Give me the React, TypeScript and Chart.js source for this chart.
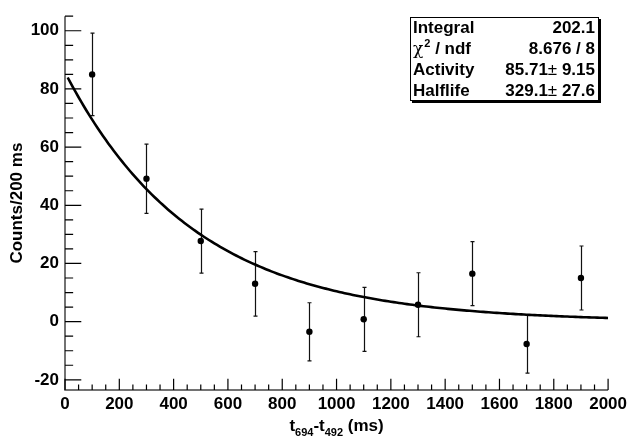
import React, { useEffect, useRef } from 'react';
import { Chart, registerables } from 'chart.js';

Chart.register(...registerables);

// ---- data ----
const binCenters = [100, 300, 500, 700, 900, 1100, 1300, 1500, 1700, 1900];
const counts = [85.0, 49.1, 27.7, 13.0, -3.5, 0.8, 5.8, 16.5, -7.7, 15.0];
const countErrors = [14.2, 11.9, 11.0, 11.1, 10.0, 11.0, 11.0, 11.0, 10.0, 11.0];

const xTickValues = [0, 200, 400, 600, 800, 1000, 1200, 1400, 1600, 1800, 2000];
const yTickValues = [-20, 0, 20, 40, 60, 80, 100];

// fit parameters shown in the stats box
const fitActivity = 85.71;
const fitActivityErr = 9.15;
const fitHalflife = 329.1;
const fitHalflifeErr = 27.6;
const fitIntegral = 202.1;
const fitChi2 = 8.676;
const fitNdf = 8;
const fitRange = [10, 2000];

const statLabels = ['Integral', 'χ2 / ndf', 'Activity', 'Halflife'];

const FONT = "'Liberation Sans', Arial, Helvetica, sans-serif";

function fitCurve() {
  const pts: { x: number; y: number }[] = [];
  for (let t = fitRange[0]; t <= fitRange[1]; t += 10) {
    pts.push({ x: t, y: fitActivity * Math.exp((-Math.LN2 * t) / fitHalflife) });
  }
  return pts;
}

const rootPlugin = {
  id: 'rootStyle',
  beforeDatasetsDraw(chart: any) {
    const ctx = chart.ctx;
    const xs = chart.scales.x;
    const ys = chart.scales.y;
    ctx.save();
    ctx.strokeStyle = '#111';
    ctx.lineWidth = 1.2;
    for (let i = 0; i < binCenters.length; i++) {
      const px = Math.round(xs.getPixelForValue(binCenters[i])) + 0.5;
      const top = ys.getPixelForValue(counts[i] + countErrors[i]);
      const bot = ys.getPixelForValue(counts[i] - countErrors[i]);
      ctx.beginPath();
      ctx.moveTo(px, top);
      ctx.lineTo(px, bot);
      ctx.moveTo(px - 2, top);
      ctx.lineTo(px + 2, top);
      ctx.moveTo(px - 2, bot);
      ctx.lineTo(px + 2, bot);
      ctx.stroke();
    }
    ctx.restore();
  },
  afterDraw(chart: any) {
    const ctx = chart.ctx;
    const xs = chart.scales.x;
    const ys = chart.scales.y;
    const area = chart.chartArea;
    ctx.save();
    // axis lines
    ctx.strokeStyle = '#444';
    ctx.lineWidth = 1.5;
    ctx.beginPath();
    ctx.moveTo(area.left, area.top);
    ctx.lineTo(area.left, area.bottom);
    ctx.lineTo(area.right, area.bottom);
    ctx.stroke();
    // ticks
    ctx.strokeStyle = '#000';
    ctx.lineWidth = 1.2;
    const yMajorLen = 0.03 * (area.right - area.left);
    const xMajorLen = 0.03 * (area.bottom - area.top);
    ctx.beginPath();
    for (let v = -20; v <= 105; v += 5) {
      const py = ys.getPixelForValue(v);
      const major = yTickValues.includes(v);
      ctx.moveTo(area.left, py);
      ctx.lineTo(area.left + (major ? yMajorLen : yMajorLen / 2), py);
    }
    for (let v = 0; v <= 2000; v += 50) {
      const px = xs.getPixelForValue(v);
      const major = xTickValues.includes(v);
      ctx.moveTo(px, area.bottom);
      ctx.lineTo(px, area.bottom - (major ? xMajorLen : xMajorLen / 2));
    }
    ctx.stroke();

    // x axis title with subscripts
    const big = `bold 17px ${FONT}`;
    const small = `bold 11px ${FONT}`;
    const parts: [string, string, number][] = [
      ['t', big, 0],
      ['694', small, 5],
      ['-t', big, 0],
      ['492', small, 5],
      [' (ms)', big, 0],
    ];
    let total = 0;
    for (const [s, f] of parts) {
      ctx.font = f;
      total += ctx.measureText(s).width;
    }
    let x = (area.left + area.right) / 2 - total / 2;
    const base = 431;
    ctx.fillStyle = '#000';
    ctx.textBaseline = 'alphabetic';
    ctx.textAlign = 'left';
    for (const [s, f, dy] of parts) {
      ctx.font = f;
      ctx.fillText(s, x, base + dy);
      x += ctx.measureText(s).width;
    }

    // stats box
    const bx = 410, by = 17, bw = 189, bh = 84;
    ctx.fillStyle = '#000';
    ctx.fillRect(bx + 2, by + bh, bw, 2);
    ctx.fillRect(bx + bw, by + 2, 2, bh);
    ctx.fillStyle = '#fff';
    ctx.fillRect(bx, by, bw, bh);
    ctx.strokeStyle = '#000';
    ctx.lineWidth = 1;
    ctx.strokeRect(bx + 0.5, by + 0.5, bw - 1, bh - 1);

    const rowH = 21;
    const baselines = [0, 1, 2, 3].map((i) => by + 15.5 + i * rowH);
    ctx.fillStyle = '#000';
    ctx.font = big;
    ctx.fillText(statLabels[0], bx + 3, baselines[0]);
    let lx = bx + 3;
    ctx.font = `17px 'DejaVu Serif', serif`;
    ctx.fillText('χ', lx, baselines[1]);
    lx += ctx.measureText('χ').width + 1;
    ctx.font = small;
    ctx.fillText('2', lx, baselines[1] - 7);
    lx += ctx.measureText('2').width;
    ctx.font = big;
    ctx.fillText(' / ndf', lx, baselines[1]);
    ctx.fillText(statLabels[2], bx + 3, baselines[2]);
    ctx.fillText(statLabels[3], bx + 3, baselines[3]);

    const right = bx + bw - 4;
    const valueRows: [string, string][][] = [
      [[fitIntegral.toFixed(1), big]],
      [[`${fitChi2.toFixed(3)} / ${fitNdf}`, big]],
      [[fitActivity.toFixed(2), big], ['±', `17px ${FONT}`], [' ' + fitActivityErr.toFixed(2), big]],
      [[fitHalflife.toFixed(1), big], ['±', `17px ${FONT}`], [' ' + fitHalflifeErr.toFixed(1), big]],
    ];
    valueRows.forEach((row, i) => {
      let w = 0;
      for (const [s, f] of row) {
        ctx.font = f;
        w += ctx.measureText(s).width;
      }
      let vx = right - w;
      for (const [s, f] of row) {
        ctx.font = f;
        ctx.fillText(s, vx, baselines[i]);
        vx += ctx.measureText(s).width;
      }
    });
    ctx.restore();
  },
};

export default function App() {
  const ref = useRef<HTMLCanvasElement | null>(null);
  useEffect(() => {
    document.body.style.margin = '0';
    const canvas = ref.current;
    if (!canvas) return;
    const chart = new Chart(canvas, {
      type: 'scatter',
      data: {
        datasets: [
          {
            type: 'line',
            label: 'fit',
            data: fitCurve(),
            borderColor: '#000',
            borderWidth: 2.6,
            pointRadius: 0,
            tension: 0,
            fill: false,
            order: 2,
          } as any,
          {
            type: 'scatter',
            label: 'data',
            data: binCenters.map((x, i) => ({ x, y: counts[i] })),
            backgroundColor: '#000',
            borderColor: '#000',
            borderWidth: 0,
            pointRadius: 3.2,
            order: 1,
          },
        ],
      },
      options: {
        animation: false,
        responsive: false,
        devicePixelRatio: 1,
        layout: { padding: { top: 13, right: 21, left: 0, bottom: 0 } },
        plugins: { legend: { display: false }, tooltip: { enabled: false } },
        scales: {
          x: {
            type: 'linear',
            min: 0,
            max: 2000,
            grid: { display: false, drawTicks: false },
            border: { display: false },
            afterBuildTicks: (s: any) => {
              s.ticks = xTickValues.map((v) => ({ value: v }));
            },
            afterFit: (s: any) => {
              s.height = 49;
            },
            ticks: {
              color: '#000',
              font: { family: FONT, size: 17, weight: 'bold' },
              padding: 4,
              maxRotation: 0,
              autoSkip: false,
              callback: (v: any) => String(v),
            },
          },
          y: {
            type: 'linear',
            min: -23.5,
            max: 105,
            grid: { display: false, drawTicks: false },
            border: { display: false },
            afterBuildTicks: (s: any) => {
              s.ticks = yTickValues.map((v) => ({ value: v }));
            },
            afterFit: (s: any) => {
              s.width = 65;
            },
            ticks: {
              color: '#000',
              font: { family: FONT, size: 17, weight: 'bold' },
              padding: 6,
              autoSkip: false,
              callback: (v: any) => String(v),
            },
            title: {
              display: true,
              text: 'Counts/200 ms',
              color: '#000',
              font: { family: FONT, size: 17, weight: 'bold' },
              padding: { top: 7, bottom: 0 },
            },
          },
        },
      },
      plugins: [rootPlugin],
    } as any);
    return () => chart.destroy();
  }, []);
  return (
    <div style={{ position: 'absolute', left: 0, top: 0, width: 631, height: 439, background: '#fff' }}>
      <canvas ref={ref} width={631} height={439} />
    </div>
  );
}
